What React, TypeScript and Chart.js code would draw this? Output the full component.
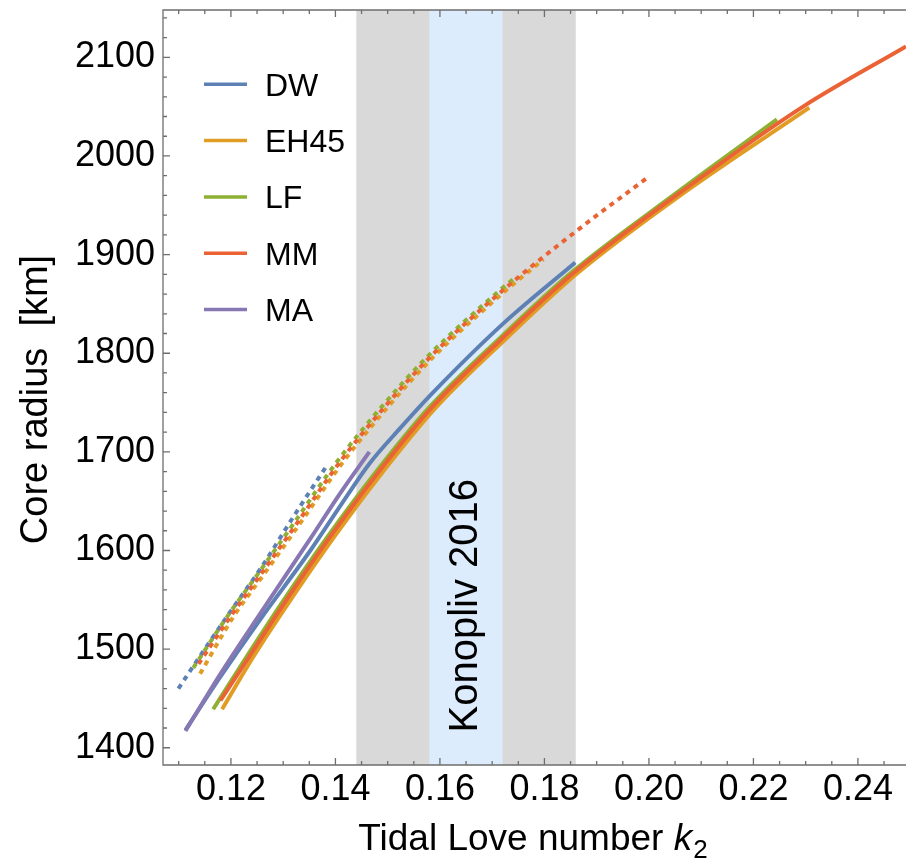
import React, { useEffect, useRef } from "react";
import { Chart, registerables } from "chart.js";
Chart.register(...registerables);

const FONT = "'Liberation Sans', Arial, Helvetica, sans-serif";

const MODELS = ["DW", "EH45", "LF", "MM", "MA"];
const COLORS = ["#5E81B5", "#E19C24", "#8FB032", "#EB6235", "#8778B3"];

// Solid curves (k2, core radius km)
const DW_K = [0.1113, 0.118, 0.1256, 0.1352, 0.1409, 0.1465, 0.1524, 0.1581, 0.1721, 0.1859];
const DW_R = [1418, 1472, 1530, 1600, 1645, 1688, 1724, 1757, 1830, 1892];
const EH45_K = [0.1183, 0.1245, 0.1322, 0.1398, 0.1475, 0.1589, 0.1729, 0.1863, 0.2068, 0.2307];
const EH45_R = [1439, 1494, 1556, 1614, 1669, 1743, 1816, 1881, 1963, 2049];
const LF_K = [0.1166, 0.1232, 0.1309, 0.1385, 0.1462, 0.1576, 0.1716, 0.185, 0.2054, 0.2245];
const LF_R = [1439, 1494, 1556, 1614, 1669, 1743, 1816, 1881, 1963, 2037];
const MM_K = [0.118, 0.1237, 0.1314, 0.139, 0.1467, 0.1581, 0.1721, 0.1855, 0.206, 0.2295, 0.2492];
const MM_R = [1448, 1494, 1556, 1614, 1669, 1743, 1816, 1881, 1963, 2050, 2111];
const MA_K = [0.1113, 0.118, 0.1256, 0.1352, 0.1409, 0.1465];
const MA_R = [1417, 1475, 1536, 1612, 1658, 1700];

// Dotted curves
const DW_DOT_K = [0.10995, 0.1141, 0.1199, 0.1256, 0.1323, 0.1381];
const DW_DOT_R = [1460, 1493, 1538, 1581, 1637, 1684];
const EH45_DOT_K = [0.1141, 0.1205, 0.1262, 0.1329, 0.1415, 0.1501, 0.1587, 0.1727, 0.1798];
const EH45_DOT_R = [1475, 1533, 1575, 1625, 1690, 1746, 1796, 1864, 1895];
const LF_DOT_K = [0.1128, 0.1193, 0.125, 0.1317, 0.1403, 0.1489, 0.1575, 0.1715, 0.1747];
const LF_DOT_R = [1481, 1533, 1575, 1625, 1690, 1746, 1796, 1864, 1878];
const MM_DOT_K = [0.1138, 0.1199, 0.1256, 0.1323, 0.1409, 0.1495, 0.1581, 0.1721, 0.1859, 0.1997];
const MM_DOT_R = [1485, 1533, 1575, 1625, 1690, 1746, 1796, 1864, 1923, 1978];

const X_TICKS = [0.12, 0.14, 0.16, 0.18, 0.2, 0.22, 0.24];
const Y_TICKS = [1400, 1500, 1600, 1700, 1800, 1900, 2000, 2100];
const X_RANGE = [0.107, 0.2492];
const Y_RANGE = [1382.5, 2148];

const GRAY_BAND = [0.144, 0.186];
const BLUE_BAND = [0.158, 0.172];
const BAND_LABEL = "Konopliv 2016";
const BAND_LABEL_POS = [0.1649, 1544];

const X_TITLE = "Tidal Love number ";
const X_TITLE_VAR = "k";
const X_TITLE_SUB = "2";
const Y_TITLE = "Core radius  [km]";

const pts = (k: number[], r: number[]) => k.map((v, i) => ({ x: v, y: r[i] }));

const SOLID = [
  pts(DW_K, DW_R),
  pts(EH45_K, EH45_R),
  pts(LF_K, LF_R),
  pts(MM_K, MM_R),
  pts(MA_K, MA_R),
];
const DOTTED: [number, { x: number; y: number }[]][] = [
  [0, pts(DW_DOT_K, DW_DOT_R)],
  [1, pts(EH45_DOT_K, EH45_DOT_R)],
  [2, pts(LF_DOT_K, LF_DOT_R)],
  [3, pts(MM_DOT_K, MM_DOT_R)],
];

const bandsPlugin = {
  id: "bands",
  beforeDatasetsDraw(chart: any) {
    const { ctx, chartArea: a, scales } = chart;
    const x = scales.x, y = scales.y;
    ctx.save();
    const g0 = x.getPixelForValue(GRAY_BAND[0]);
    const g1 = x.getPixelForValue(GRAY_BAND[1]);
    ctx.fillStyle = "#D9D9D9";
    ctx.fillRect(g0, a.top, g1 - g0, a.bottom - a.top);
    const b0 = x.getPixelForValue(BLUE_BAND[0]);
    const b1 = x.getPixelForValue(BLUE_BAND[1]);
    ctx.fillStyle = "#DCECFC";
    ctx.fillRect(b0, a.top, b1 - b0, a.bottom - a.top);
    ctx.translate(x.getPixelForValue(BAND_LABEL_POS[0]), y.getPixelForValue(BAND_LABEL_POS[1]));
    ctx.rotate(-Math.PI / 2);
    ctx.font = `40px ${FONT}`;
    ctx.textAlign = "center";
    ctx.textBaseline = "middle";
    ctx.fillStyle = "#000";
    ctx.fillText(BAND_LABEL, 0, 0);
    ctx.restore();
  },
};

const framePlugin = {
  id: "frame",
  afterDatasetsDraw(chart: any) {
    const { ctx, chartArea: a, scales } = chart;
    const x = scales.x, y = scales.y;
    ctx.save();
    ctx.strokeStyle = "#6E6E6E";
    ctx.lineWidth = 1.3;
    ctx.beginPath();
    ctx.moveTo(a.right + 2, a.top);
    ctx.lineTo(a.left, a.top);
    ctx.lineTo(a.left, a.bottom);
    ctx.lineTo(a.right + 2, a.bottom);
    ctx.stroke();
    ctx.beginPath();
    for (let v = 0.11; v <= X_RANGE[1] + 1e-9; v += 0.005) {
      const major = X_TICKS.some((t) => Math.abs(t - v) < 1e-6);
      const px = x.getPixelForValue(v);
      const len = major ? 7 : 4;
      ctx.moveTo(px, a.bottom);
      ctx.lineTo(px, a.bottom - len);
      ctx.moveTo(px, a.top);
      ctx.lineTo(px, a.top + len);
    }
    for (let v = 1400; v <= Y_RANGE[1]; v += 20) {
      const major = Y_TICKS.includes(v);
      const py = y.getPixelForValue(v);
      const len = major ? 7 : 4;
      ctx.moveTo(a.left, py);
      ctx.lineTo(a.left + len, py);
    }
    ctx.stroke();

    // axis titles
    ctx.fillStyle = "#000";
    ctx.font = `37px ${FONT}`;
    const w1 = ctx.measureText(X_TITLE).width;
    ctx.font = `italic 37px ${FONT}`;
    const w2 = ctx.measureText(X_TITLE_VAR).width;
    ctx.font = `26px ${FONT}`;
    const w3 = ctx.measureText(X_TITLE_SUB).width;
    const total = w1 + w2 + w3;
    const cx = (a.left + a.right) / 2 - 2;
    let sx = cx - total / 2;
    const base = 850;
    ctx.textBaseline = "alphabetic";
    ctx.textAlign = "left";
    ctx.font = `37px ${FONT}`;
    ctx.fillText(X_TITLE, sx, base);
    sx += w1;
    ctx.font = `italic 37px ${FONT}`;
    ctx.fillText(X_TITLE_VAR, sx, base);
    sx += w2 + 1;
    ctx.font = `26px ${FONT}`;
    ctx.fillText(X_TITLE_SUB, sx, base + 8);

    ctx.translate(37, (a.top + a.bottom) / 2 + 12);
    ctx.rotate(-Math.PI / 2);
    ctx.font = `38px ${FONT}`;
    ctx.textAlign = "center";
    ctx.textBaseline = "middle";
    ctx.fillText(Y_TITLE, 0, 0);
    ctx.restore();
  },
};

const legendPlugin = {
  id: "customLegend",
  afterDraw(chart: any) {
    const { ctx } = chart;
    ctx.save();
    ctx.font = `32px ${FONT}`;
    ctx.textAlign = "left";
    ctx.textBaseline = "alphabetic";
    MODELS.forEach((m, i) => {
      const yy = 84.3 + i * 56.3;
      ctx.strokeStyle = COLORS[i];
      ctx.lineWidth = 3.5;
      ctx.beginPath();
      ctx.moveTo(204, yy);
      ctx.lineTo(247, yy);
      ctx.stroke();
      ctx.fillStyle = "#000";
      ctx.fillText(m, 265, yy + 11.5);
    });
    ctx.restore();
  },
};

export default function App() {
  const ref = useRef<HTMLCanvasElement>(null);
  useEffect(() => {
    const datasets: any[] = [];
    let order = 100;
    SOLID.forEach((d, i) => {
      datasets.push({
        label: MODELS[i],
        data: d,
        borderColor: COLORS[i],
        backgroundColor: COLORS[i],
        borderWidth: 4,
        pointRadius: 0,
        cubicInterpolationMode: "monotone",
        borderCapStyle: "butt",
        fill: false,
        order: order--,
      });
    });
    DOTTED.forEach(([ci, d]) => {
      datasets.push({
        label: MODELS[ci] + " dotted",
        data: d,
        borderColor: COLORS[ci],
        backgroundColor: COLORS[ci],
        borderWidth: 4,
        borderDash: [5, 5],
        pointRadius: 0,
        cubicInterpolationMode: "monotone",
        borderCapStyle: "butt",
        fill: false,
        order: order--,
      });
    });
    const chart = new Chart(ref.current!, {
      type: "line",
      data: { datasets },
      options: {
        animation: false,
        responsive: false,
        events: [],
        layout: { padding: { top: 10, right: 0, left: 0, bottom: 0 } },
        plugins: { legend: { display: false }, tooltip: { enabled: false } },
        scales: {
          x: {
            type: "linear",
            min: X_RANGE[0],
            max: X_RANGE[1],
            grid: { display: false, drawTicks: false },
            border: { display: false },
            afterBuildTicks: (s: any) => {
              s.ticks = X_TICKS.map((v) => ({ value: v }));
            },
            afterFit: (s: any) => {
              s.height = 94;
              s.paddingLeft = 0;
              s.paddingRight = 0;
              s.paddingTop = 0;
              s.paddingBottom = 0;
            },
            ticks: {
              autoSkip: false,
              maxRotation: 0,
              padding: 3,
              color: "#000",
              font: { family: FONT, size: 36 },
              callback: (v: any) => Number(v).toFixed(2),
            },
          },
          y: {
            type: "linear",
            min: Y_RANGE[0],
            max: Y_RANGE[1],
            grid: { display: false, drawTicks: false },
            border: { display: false },
            afterBuildTicks: (s: any) => {
              s.ticks = Y_TICKS.map((v) => ({ value: v }));
            },
            afterFit: (s: any) => {
              s.width = 163;
              s.paddingLeft = 0;
              s.paddingRight = 0;
              s.paddingTop = 0;
              s.paddingBottom = 0;
            },
            ticks: {
              autoSkip: false,
              padding: 8,
              color: "#000",
              font: { family: FONT, size: 36 },
              callback: (v: any) => String(v),
            },
          },
        },
      },
      plugins: [bandsPlugin, framePlugin, legendPlugin],
    });
    return () => chart.destroy();
  }, []);
  return (
    <div style={{ position: "absolute", left: 0, top: 0, width: 906, height: 859, background: "#fff" }}>
      <canvas ref={ref} width={906} height={859} style={{ display: "block" }} />
    </div>
  );
}
